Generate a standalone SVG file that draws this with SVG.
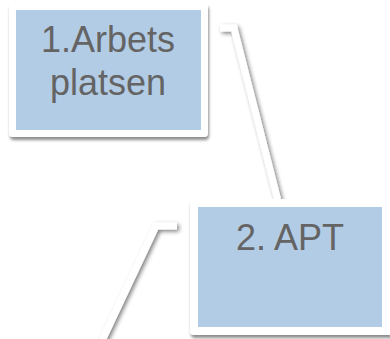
<svg xmlns="http://www.w3.org/2000/svg" width="390" height="339" viewBox="0 0 390 339">
<defs>
<filter id="sh" x="-20%" y="-20%" width="140%" height="140%">
<feGaussianBlur in="SourceAlpha" stdDeviation="1.8"/>
<feOffset dx="1" dy="2.5" result="b"/>
<feComponentTransfer><feFuncA type="linear" slope="0.45"/></feComponentTransfer>
<feMerge><feMergeNode/><feMergeNode in="SourceGraphic"/></feMerge>
</filter>
<filter id="lsh" x="-50%" y="-50%" width="200%" height="200%">
<feGaussianBlur in="SourceAlpha" stdDeviation="2"/>
<feOffset dx="1.5" dy="2" result="b"/>
<feComponentTransfer><feFuncA type="linear" slope="0.5"/></feComponentTransfer>
<feMerge><feMergeNode/><feMergeNode in="SourceGraphic"/></feMerge>
</filter>
</defs>
<style>
.frame{fill:#ffffff;filter:url(#sh)}
.fill{fill:#B3CCE5}
.lbl{font-family:"Liberation Sans",Arial,sans-serif;font-size:36px;fill:#646464;text-anchor:middle}
.conn{fill:none;stroke:#ffffff;stroke-width:7;stroke-linejoin:miter;filter:url(#lsh)}
</style>
<rect width="390" height="339" fill="#ffffff"/>
<g id="connectors">
<polyline class="conn" points="220,28 234,28 278,201"/>
<polyline class="conn" points="177,226 156,226 100,345"/>
</g>
<g id="node1">
<rect class="frame" x="9" y="3" width="199" height="134" rx="4"/>
<rect class="fill" x="16" y="10" width="185" height="120"/>
<text class="lbl" x="108" y="52">1.Arbets</text>
<text class="lbl" x="108" y="95">platsen</text>
</g>
<g id="node2">
<rect class="frame" x="190" y="199" width="205" height="136" rx="4"/>
<rect class="fill" x="198" y="207" width="184" height="120"/>
<text class="lbl" x="290" y="250">2. APT</text>
</g>
</svg>
